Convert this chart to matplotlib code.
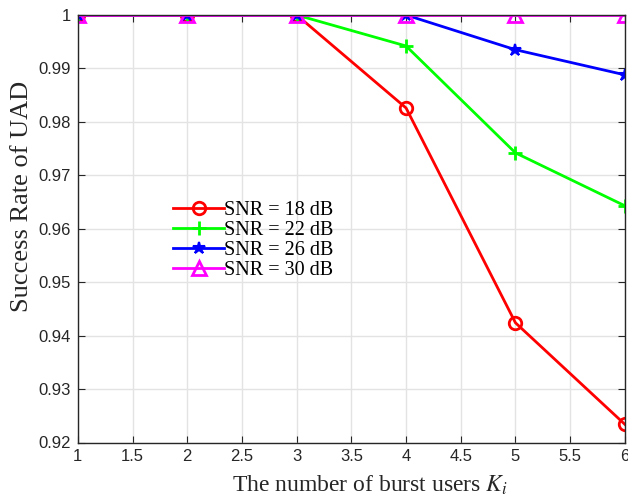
import numpy as np
import matplotlib
matplotlib.use('Agg')
import matplotlib.pyplot as plt

# data
users = [1, 2, 3, 4, 5, 6]
snr18 = [1.0, 1.0, 1.0, 0.9826, 0.9424, 0.9234]
snr22 = [1.0, 1.0, 1.0, 0.9942, 0.9742, 0.9643]
snr26 = [1.0, 1.0, 1.0, 1.0, 0.9935, 0.9888]
snr30 = [1.0, 1.0, 1.0, 1.0, 1.0, 1.0]
labels = ['SNR = 18 dB', 'SNR = 22 dB', 'SNR = 26 dB', 'SNR = 30 dB']

plt.rcParams['mathtext.fontset'] = 'stix'

fig = plt.figure(figsize=(6.28, 5), dpi=100)
ax = fig.add_axes([0.124, 0.115, 0.871, 0.855])

ax.plot(users, snr18, 'r-o', lw=2, ms=9, mfc='none', mew=2, label=labels[0])
ax.plot(users, snr22, '-+', color='#00ff00', lw=2, ms=10, mew=2, label=labels[1])
ax.plot(users, snr26, 'b-*', lw=2, ms=9, mew=1.5, label=labels[2])
ax.plot(users, snr30, '-^', color='#ff00ff', lw=2, ms=10, mfc='none', mew=2, label=labels[3])

ax.set_xlim(1, 6)
ax.set_ylim(0.92, 1.0)
ax.set_xticks(np.arange(1, 6.01, 0.5))
ax.set_xticklabels(['1', '1.5', '2', '2.5', '3', '3.5', '4', '4.5', '5', '5.5', '6'])
ax.set_yticks(np.arange(0.92, 1.001, 0.01))
ax.set_yticklabels(['0.92', '0.93', '0.94', '0.95', '0.96', '0.97', '0.98', '0.99', '1'])
ax.grid(True, color='#e3e3e3', lw=1)
ax.set_axisbelow(True)
ax.tick_params(direction='in', top=True, right=True, labelsize=12, length=5,
               color='#262626', labelcolor='#262626', pad=5)
for lab in ax.get_xticklabels() + ax.get_yticklabels():
    lab.set_family('Liberation Sans')
for s in ax.spines.values():
    s.set_linewidth(1)
    s.set_color('#262626')

ax.set_xlabel('The number of burst users $K_i$', family='Liberation Serif', fontsize=17,
              color='#262626')
ax.xaxis.set_label_coords(0.534, -0.073, transform=ax.transAxes)
ax.xaxis.label.set_va('top')
ax.set_ylabel('Success Rate of UAD', family='Liberation Serif', fontsize=19, color='#262626')
ax.yaxis.set_label_coords(-0.082, 0.575, transform=ax.transAxes)

leg = ax.legend(loc='upper left', bbox_to_anchor=(0.16, 0.585), frameon=False,
                prop={'family': 'Liberation Serif', 'size': 14.5},
                handlelength=2.5, labelspacing=0.05, handletextpad=0.0, borderaxespad=0)

fig.savefig('out.png', dpi=100)
